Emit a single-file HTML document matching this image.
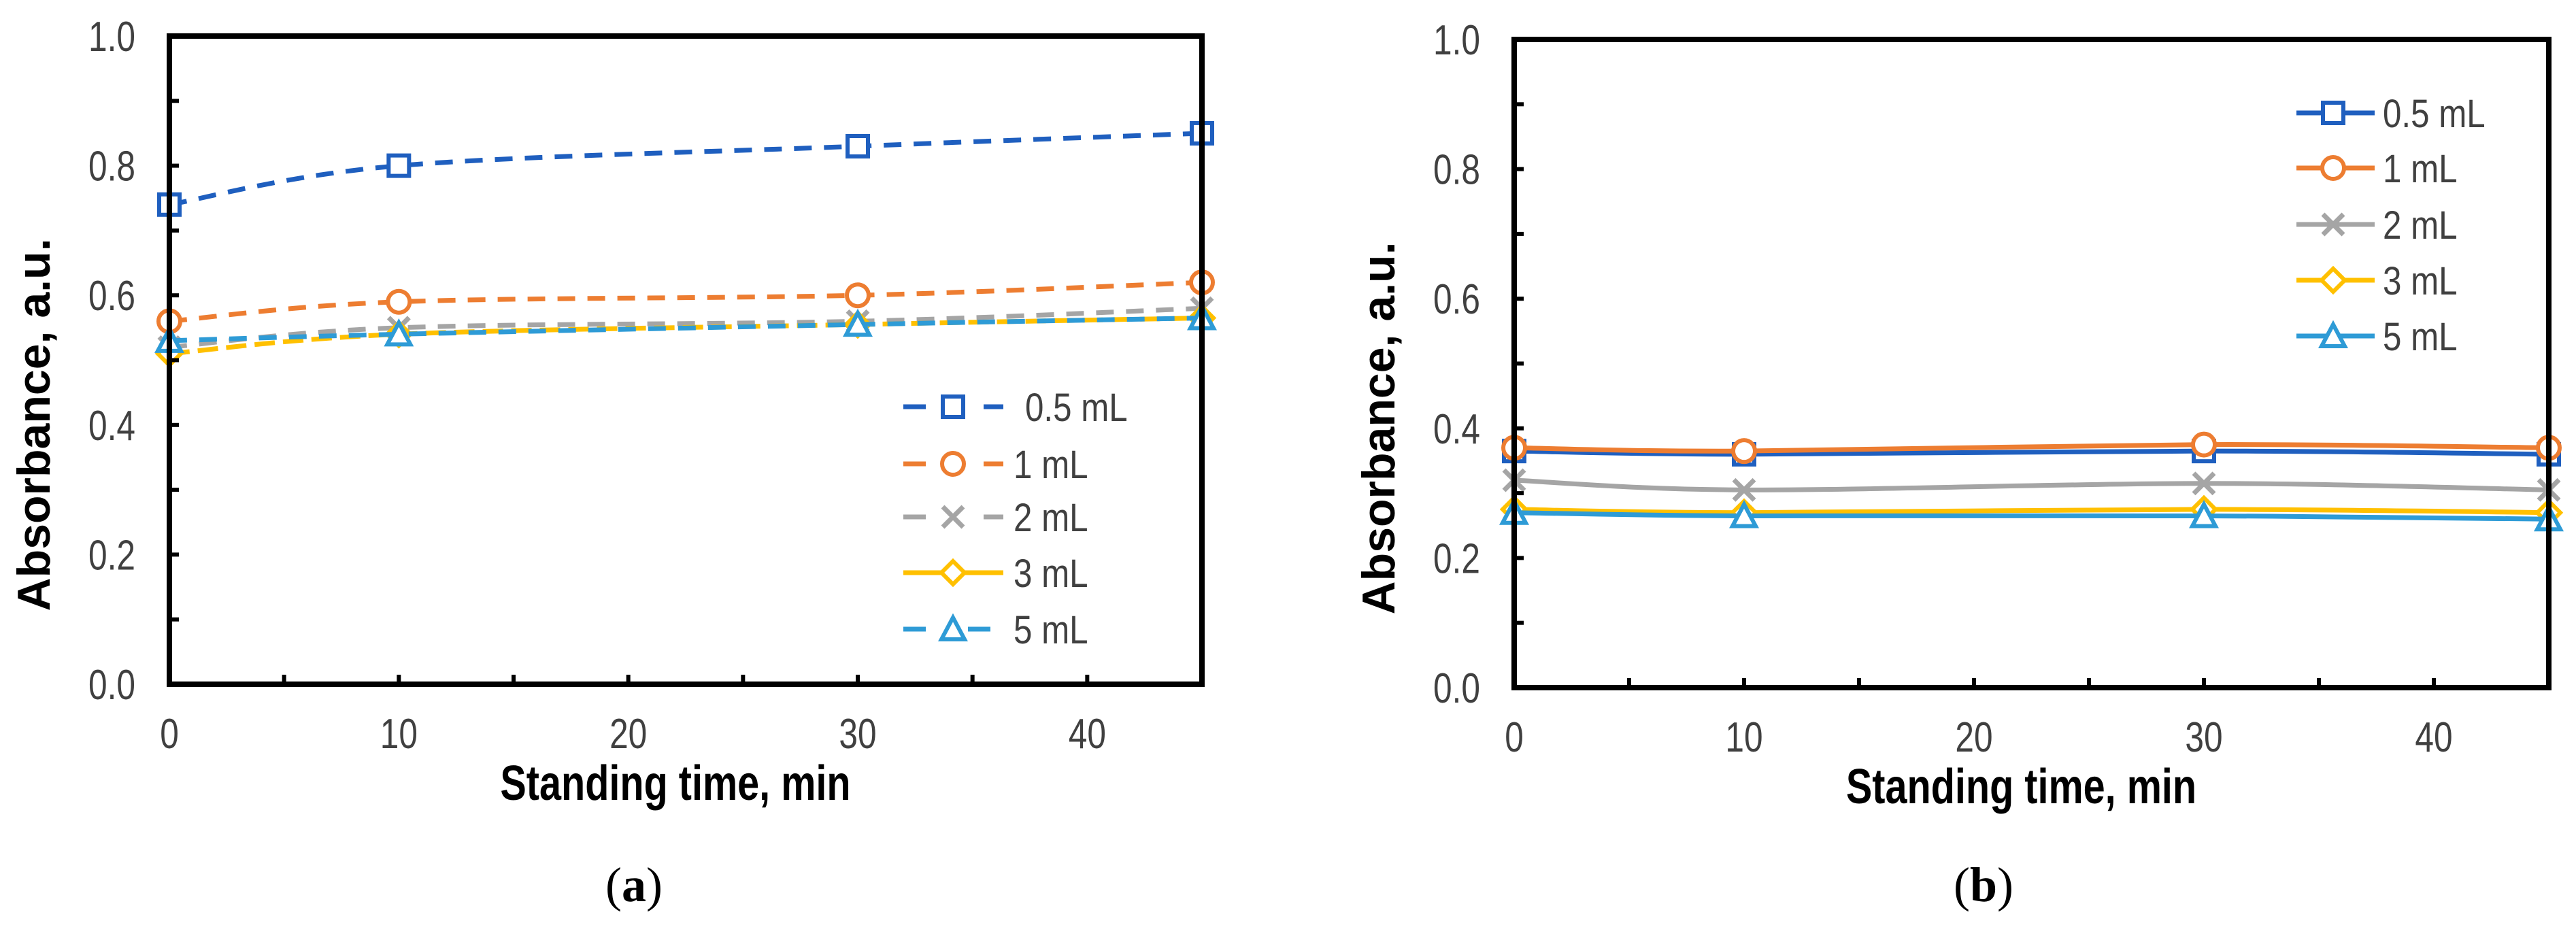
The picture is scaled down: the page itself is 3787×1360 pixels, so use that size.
<!DOCTYPE html>
<html><head><meta charset="utf-8"><style>
html,body{margin:0;padding:0;background:#fff;}
svg{display:block;}
text{font-family:"Liberation Sans",sans-serif;}
</style></head><body>
<svg id="fig" width="3787" height="1360" viewBox="0 0 3787 1360" xmlns="http://www.w3.org/2000/svg"></svg>
<script>
const times = [0, 10, 30, 45];
const seriesNames = ["0.5 mL", "1 mL", "2 mL", "3 mL", "5 mL"];
const aS05 = [0.74, 0.80, 0.83, 0.85];
const aS1 = [0.56, 0.59, 0.60, 0.62];
const aS2 = [0.52, 0.55, 0.56, 0.58];
const aS3 = [0.51, 0.54, 0.555, 0.565];
const aS5 = [0.53, 0.54, 0.555, 0.565];
const bS05 = [0.365, 0.36, 0.365, 0.36];
const bS1 = [0.37, 0.365, 0.375, 0.37];
const bS2 = [0.32, 0.305, 0.315, 0.305];
const bS3 = [0.275, 0.27, 0.275, 0.27];
const bS5 = [0.27, 0.265, 0.265, 0.26];
const yTicks = ["0.0", "0.2", "0.4", "0.6", "0.8", "1.0"];
const xTicks = ["0", "10", "20", "30", "40"];

const NS = "http://www.w3.org/2000/svg";
const svg = document.getElementById("fig");
const colors = ["#1F5FBF", "#ED7D31", "#A5A5A5", "#FFC000", "#2E9BD6"];
const markers = ["square", "circle", "cross", "diamond", "triangle"];
const narrowEls = [];

function mk(tag, attrs, parent) {
  const e = document.createElementNS(NS, tag);
  for (const k in attrs) e.setAttribute(k, attrs[k]);
  (parent || svg).appendChild(e);
  return e;
}
function smoothPath(pts) {
  let d = "M" + pts[0][0] + "," + pts[0][1];
  for (let i = 0; i < pts.length - 1; i++) {
    const p0 = pts[i - 1] || pts[i], p1 = pts[i], p2 = pts[i + 1], p3 = pts[i + 2] || p2;
    const t = 1 / 6;
    const c1 = [p1[0] + (p2[0] - p0[0]) * t, p1[1] + (p2[1] - p0[1]) * t];
    const c2 = [p2[0] - (p3[0] - p1[0]) * t, p2[1] - (p3[1] - p1[1]) * t];
    d += " C" + c1 + " " + c2 + " " + p2;
  }
  return d;
}
function drawMarker(g, type, x, y, color) {
  const s = 15;
  let e;
  if (type === "square") e = mk("rect", {x: x - s, y: y - s, width: 2 * s, height: 2 * s, fill: "#fff", stroke: color, "stroke-width": 6}, g);
  else if (type === "circle") e = mk("circle", {cx: x, cy: y, r: s + 1, fill: "#fff", stroke: color, "stroke-width": 6}, g);
  else if (type === "cross") e = mk("path", {d: `M${x - s},${y - s}L${x + s},${y + s}M${x - s},${y + s}L${x + s},${y - s}`, stroke: color, "stroke-width": 7, fill: "none"}, g);
  else if (type === "diamond") e = mk("path", {d: `M${x},${y - s - 2}L${x + s + 2},${y}L${x},${y + s + 2}L${x - s - 2},${y}Z`, fill: "#fff", stroke: color, "stroke-width": 6}, g);
  else e = mk("path", {d: `M${x},${y - s - 2}L${x + s + 2},${y + s}L${x - s - 2},${y + s}Z`, fill: "#fff", stroke: color, "stroke-width": 6}, g);
  
  
}

function panel(cfg) {
  const {L, R, T, B, data, dashes, legend, label, labelX, panelName} = cfg;
  const g = mk("g", {});
  
  
  const xs = v => L + (v / 45) * (R - L);
  const ys = v => B - v * (B - T);
  data.forEach((vals, si) => {
    const sg = mk("g", {}, g);
    
    
    const pts = vals.map((v, i) => [xs(times[i]), ys(v)]);
    const p = mk("path", {d: smoothPath(pts), fill: "none", stroke: colors[si], "stroke-width": 7}, sg);
    if (dashes[si]) p.setAttribute("stroke-dasharray", dashes[si]);
    
    
    pts.forEach(pt => drawMarker(sg, markers[si], pt[0], pt[1], colors[si]));
  });
  const fr = mk("rect", {x: L, y: T, width: R - L, height: B - T, fill: "none", stroke: "#000", "stroke-width": 8}, g);
  
  
  for (let i = 0; i <= 10; i++) {
    const y = ys(i / 10);
    mk("line", {x1: L, x2: L + 14, y1: y, y2: y, stroke: "#000", "stroke-width": 6}, g);
  }
  yTicks.forEach(t => {
    const tx = mk("text", {x: L - 50, y: ys(parseFloat(t)) + 22, "text-anchor": "end", "font-size": 62, fill: "#404040"}, g);
    tx.textContent = t;
    
    
    narrowEls.push([tx, 0.8]);
  });
  for (let v = 5; v < 45; v += 5) {
    const x = xs(v);
    mk("line", {x1: x, x2: x, y1: B, y2: B - 14, stroke: "#000", "stroke-width": 6}, g);
  }
  xTicks.forEach(t => {
    const tx = mk("text", {x: xs(parseFloat(t)), y: B + 94, "text-anchor": "middle", "font-size": 62, fill: "#404040"}, g);
    tx.textContent = t;
    
    
    narrowEls.push([tx, 0.8]);
  });
  const yt = mk("text", {x: 0, y: 0, "text-anchor": "middle", "font-size": 68, "font-weight": "bold", fill: "#000", transform: `translate(${L - 176},${(T + B) / 2 + 95}) rotate(-90)`}, g);
  yt.textContent = "Absorbance, a.u.";
  
  
  const xt = mk("text", {x: (L + R) / 2 - 15, y: B + 170, "text-anchor": "middle", "font-size": 72, "font-weight": "bold", fill: "#000"}, g);
  xt.textContent = "Standing time, min";
  
  
  narrowEls.push([xt, 0.8]);
  const lg = mk("g", {}, g);
  
  
  seriesNames.forEach((n, si) => {
    const y = legend.ys[si];
    const ln = mk("line", {x1: legend.x1, x2: legend.x2, y1: y, y2: y, stroke: colors[si], "stroke-width": 7}, lg);
    if (legend.dashes[si]) ln.setAttribute("stroke-dasharray", legend.dashes[si]);
    drawMarker(lg, markers[si], legend.mx, y, colors[si]);
    const tx = mk("text", {x: legend.tx[si], y: y + 21, "font-size": 58, fill: "#404040"}, lg);
    tx.textContent = n;
    
    
    narrowEls.push([tx, 0.85]);
  });
  const cap = mk("text", {x: labelX, y: 1325, "text-anchor": "middle", "font-size": 72, fill: "#000", style: 'font-family:"Liberation Serif",serif'}, g);
  cap.innerHTML = '(<tspan font-weight="bold">' + label + '</tspan>)';
  
  
}

panel({
  panelName: "panel-a", L: 249, R: 1767, T: 53, B: 1006,
  data: [aS05, aS1, aS2, aS3, aS5],
  dashes: ["26,18", "26,18", "26,18", "30,12", "26,18"],
  legend: {ys: [598, 682, 760, 842, 925], x1: 1328, x2: 1475, mx: 1401, tx: [1507, 1490, 1490, 1490, 1490],
           dashes: ["33,85", "33,85", "33,85", null, "33,62"]},
  label: "a", labelX: 932
});
panel({
  panelName: "panel-b", L: 2226, R: 3747, T: 58, B: 1011,
  data: [bS05, bS1, bS2, bS3, bS5],
  dashes: [null, null, null, null, null],
  legend: {ys: [166, 247, 330, 412, 494], x1: 3376, x2: 3491, mx: 3430, tx: [3503, 3503, 3503, 3503, 3503],
           dashes: [null, null, null, null, null]},
  label: "b", labelX: 2916
});
narrowEls.forEach(([el, f]) => {
  const w = el.getComputedTextLength();
  el.setAttribute("textLength", (w * f).toFixed(1));
  el.setAttribute("lengthAdjust", "spacingAndGlyphs");
});
</script>
</body></html>
